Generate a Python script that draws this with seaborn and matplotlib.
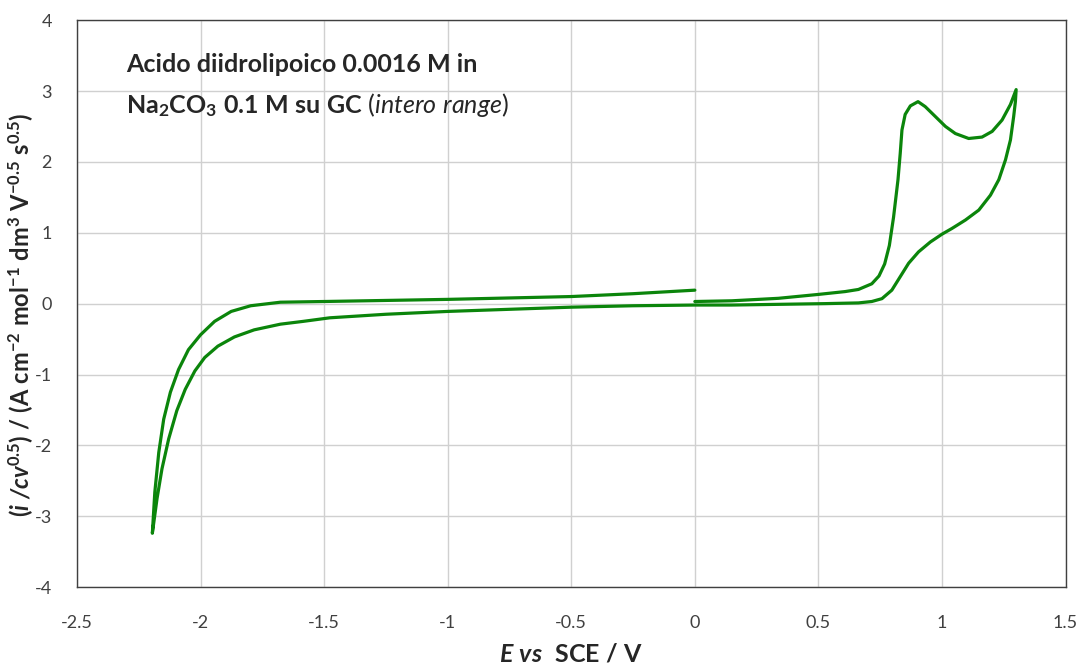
import matplotlib
matplotlib.use("Agg")
import matplotlib.pyplot as plt
import numpy as np
import pandas as pd
import seaborn as sns

# voltammogram: start at 0 V, sweep to +1.3, back to -2.2, back to 0
E_fwd_pos = [0.0, 0.15, 0.338, 0.5, 0.608, 0.662, 0.716, 0.745, 0.768, 0.787, 0.804, 0.822,
             0.831, 0.838, 0.851, 0.872, 0.903, 0.932, 0.973, 1.014, 1.054, 1.108, 1.162,
             1.203, 1.243, 1.277, 1.30]
i_fwd_pos = [0.03, 0.04, 0.075, 0.13, 0.17, 0.20, 0.28, 0.39, 0.56, 0.82, 1.22, 1.75,
             2.12, 2.45, 2.67, 2.79, 2.85, 2.78, 2.64, 2.50, 2.40, 2.33, 2.35,
             2.43, 2.59, 2.81, 3.02]

E_rev = [1.297, 1.29, 1.277, 1.257, 1.23, 1.196, 1.149, 1.095, 1.04, 1.0, 0.953, 0.905, 0.865,
         0.831, 0.797, 0.757, 0.716, 0.662, 0.527, 0.338, 0.15, 0.0, -0.25, -0.5, -0.75, -1.0,
         -1.25, -1.477, -1.584, -1.677, -1.783, -1.863, -1.93, -1.983, -2.023, -2.062, -2.096,
         -2.129, -2.156, -2.176, -2.195]
i_rev = [2.85, 2.64, 2.31, 2.03, 1.75, 1.53, 1.32, 1.18, 1.06, 0.98, 0.87, 0.73, 0.57,
         0.38, 0.19, 0.07, 0.03, 0.01, 0.0, -0.01, -0.02, -0.02, -0.03, -0.05, -0.08, -0.11,
         -0.15, -0.20, -0.25, -0.29, -0.37, -0.47, -0.60, -0.76, -0.95, -1.21, -1.51,
         -1.91, -2.33, -2.75, -3.24]

E_back = [-2.185, -2.169, -2.149, -2.122, -2.089, -2.049, -2.0, -1.943, -1.876, -1.797,
          -1.677, -1.5, -1.0, -0.5, -0.25, 0.0]
i_back = [-2.66, -2.10, -1.63, -1.25, -0.93, -0.65, -0.44, -0.25, -0.11, -0.03,
          0.02, 0.03, 0.06, 0.10, 0.14, 0.19]

df = pd.DataFrame({
    "E": E_fwd_pos + E_rev + E_back,
    "i": i_fwd_pos + i_rev + i_back,
})

sns.set_style("white")
plt.rcParams["font.family"] = ["Lato", "DejaVu Sans"]
plt.rcParams["mathtext.fontset"] = "custom"
plt.rcParams["mathtext.rm"] = "Lato"
plt.rcParams["mathtext.bf"] = "Lato:bold"
plt.rcParams["mathtext.it"] = "Lato:italic"
plt.rcParams["mathtext.bfit"] = "Lato:bold:italic"

fig = plt.figure(figsize=(10.84, 6.71), dpi=100)
ax = fig.add_axes([0.071, 0.125, 0.912, 0.845])

sns.lineplot(data=df, x="E", y="i", sort=False, estimator=None, color="#0b850b",
             linewidth=2.3, ax=ax)

ax.set_xlim(-2.5, 1.5)
ax.set_ylim(-4, 4)
ax.set_xticks(np.arange(-2.5, 1.51, 0.5))
ax.set_yticks(np.arange(-4, 4.1, 1))
ax.set_xticklabels(["-2.5", "-2", "-1.5", "-1", "-0.5", "0", "0.5", "1", "1.5"])
ax.set_yticklabels(["-4", "-3", "-2", "-1", "0", "1", "2", "3", "4"])
ax.grid(True, color="#d0d0d0", linewidth=1.0)
ax.tick_params(axis="x", labelsize=13, colors="#404040", direction="in", length=5, pad=20)
ax.tick_params(axis="y", labelsize=13, colors="#404040", direction="out", length=5, pad=13)
for s in ax.spines.values():
    s.set_color("#404040")
    s.set_linewidth(1.0)

ax.set_xlabel(r"$\mathbfit{E\ vs}\ \ \mathbf{SCE\ /\ V}$", fontsize=18, labelpad=8)
ax.set_ylabel(r"$\mathbf{(}\mathbfit{i\ /cv}^{\mathbf{0.5}}\mathbf{)\ /\ (A\ cm}^{\mathbf{-2}}"
              r"\mathbf{\ mol}^{\mathbf{-1}}\mathbf{\ dm}^{\mathbf{3}}\mathbf{\ V}^{\mathbf{-0.5}}"
              r"\mathbf{\ s}^{\mathbf{0.5}}\mathbf{)}$", fontsize=17)
ax.yaxis.set_label_coords(-0.042, 0.48)

ax.text(-2.3, 3.37, "Acido diidrolipoico 0.0016 M in", fontsize=18, fontweight="bold",
        va="center", ha="left")
ax.text(-2.3, 2.80, r"$\mathbf{Na_2CO_3\ 0.1\ M\ su\ GC}\ \mathit{(intero\ range)}$",
        fontsize=18, va="center", ha="left")

fig.savefig("out.png", dpi=100)
